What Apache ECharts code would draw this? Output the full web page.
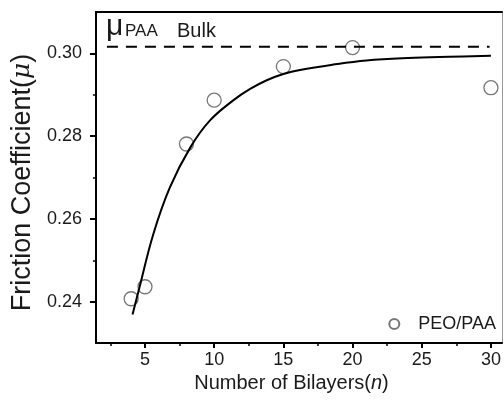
<!DOCTYPE html>
<html>
<head>
<meta charset="utf-8">
<script src="https://cdn.jsdelivr.net/npm/echarts@6/dist/echarts.min.js"></script>
<style>
    html, body { margin: 0; padding: 0; background: #fff; }
    #chart { width: 504px; height: 403px; }
</style>
</head>
<body>
<div id="chart"></div>
<script type="text/javascript">
// 测量数据 (PEO/PAA)
var bilayers = [4, 5, 8, 10, 15, 20, 30];
var friction = [0.2407, 0.2436, 0.2781, 0.2887, 0.2968, 0.3014, 0.2917];

// 拟合曲线
var fitN  = [4.1, 4.6, 5.6, 6.8, 8.3, 9.7, 11.4, 12.6, 13.8, 15, 16.2, 18.6, 21, 24, 27, 30];
var fitMu = [0.2369, 0.2434, 0.2563, 0.2676, 0.2774, 0.2838, 0.2887, 0.2914, 0.2935, 0.2950, 0.2960, 0.2973, 0.2983, 0.2989, 0.2992, 0.2994];

// PAA bulk 参考线
var bulkMu = 0.3016;
var bulkRange = [2.25, 29.9];

// 刻度
var xMajorTicks = [5, 10, 15, 20, 25, 30];
var xMinorTicks = [2.5, 7.5, 12.5, 17.5, 22.5, 27.5];
var yMajorTicks = [0.24, 0.26, 0.28, 0.30];
var yMinorTicks = [0.25, 0.27, 0.29];

var font = 'Liberation Sans, Arial, sans-serif';
var ink = '#1a1a1a';

var chart = echarts.init(document.getElementById('chart'));

function zip(a, b) {
    return a.map(function (v, i) { return [v, b[i]]; });
}

var option = {
    animation: false,
    backgroundColor: '#fff',
    textStyle: { fontFamily: font, color: ink },
    grid: { left: 96, right: 2, top: 12, bottom: 60 },
    legend: {
        data: ['PEO/PAA'],
        right: 3,
        top: 310,
        itemWidth: 10,
        itemHeight: 10,
        textStyle: { fontFamily: font, fontSize: 18, color: ink, padding: [0, 0, 0, 14] }
    },
    xAxis: [{
        type: 'value', min: 1.46, max: 30.8,
        name: 'Number of Bilayers({i|n})',
        nameLocation: 'middle', nameGap: 28,
        nameTextStyle: {
            fontFamily: font, fontSize: 20, color: ink, padding: [0, 15, 0, 0],
            rich: { i: { fontStyle: 'italic', fontFamily: font, fontSize: 20, color: ink } }
        },
        axisLine: { lineStyle: { color: '#000', width: 2 } },
        axisTick: { show: true, inside: false, length: 5, lineStyle: { color: '#000', width: 2 }, customValues: xMajorTicks },
        axisLabel: { fontFamily: font, fontSize: 18, color: ink, margin: 8, customValues: xMajorTicks },
        splitLine: { show: false }
    }, {
        type: 'value', min: 1.46, max: 30.8, position: 'bottom',
        axisLine: { show: false },
        axisTick: { show: true, length: 3, lineStyle: { color: '#000', width: 1.5 }, customValues: xMinorTicks },
        axisLabel: { show: false },
        splitLine: { show: false }
    }, {
        type: 'value', min: 1.46, max: 30.8, position: 'top',
        axisLine: { lineStyle: { color: '#000', width: 2 } },
        axisTick: { show: false },
        axisLabel: { show: false },
        splitLine: { show: false }
    }],
    yAxis: [{
        type: 'value', min: 0.23, max: 0.31,
        name: 'Friction Coefficient({i|μ})',
        nameLocation: 'middle', nameGap: 60,
        nameTextStyle: {
            fontFamily: font, fontSize: 27, color: ink, padding: [0, 10, 0, 0],
            rich: { i: { fontStyle: 'italic', fontFamily: 'DejaVu Serif, serif', fontSize: 25, color: ink } }
        },
        axisLine: { lineStyle: { color: '#000', width: 2 } },
        axisTick: { show: true, length: 6, lineStyle: { color: '#000', width: 2 }, customValues: yMajorTicks },
        axisLabel: {
            fontFamily: font, fontSize: 18, color: ink, margin: 14, customValues: yMajorTicks,
            formatter: function (v) { return v.toFixed(2); }
        },
        splitLine: { show: false }
    }, {
        type: 'value', min: 0.23, max: 0.31, position: 'left',
        axisLine: { show: false },
        axisTick: { show: true, length: 3, lineStyle: { color: '#000', width: 1.5 }, customValues: yMinorTicks },
        axisLabel: { show: false },
        splitLine: { show: false }
    }, {
        type: 'value', min: 0.23, max: 0.31, position: 'right',
        axisLine: { lineStyle: { color: '#999', width: 1 } },
        axisTick: { show: false },
        axisLabel: { show: false },
        splitLine: { show: false }
    }],
    graphic: [
        { type: 'text', left: 106, top: 12, z: 10, style: { text: 'μ', font: '30px ' + font, fill: ink } },
        { type: 'text', left: 125, top: 23, z: 10, style: { text: 'PAA', font: '17px ' + font, fill: ink } },
        { type: 'text', left: 177, top: 21, z: 10, style: { text: 'Bulk', font: '20px ' + font, fill: ink } }
    ],
    series: [{
        name: 'PEO/PAA',
        type: 'scatter',
        xAxisIndex: 0, yAxisIndex: 0,
        symbol: 'circle',
        symbolSize: 14,
        itemStyle: { color: 'rgba(255,255,255,0)', borderColor: '#555', borderWidth: 1.3 },
        z: 2,
        data: zip(bilayers, friction)
    }, {
        name: 'fit',
        type: 'line',
        xAxisIndex: 0, yAxisIndex: 0,
        smooth: 0.4,
        showSymbol: false,
        lineStyle: { color: '#000', width: 2 },
        z: 3,
        data: zip(fitN, fitMu)
    }, {
        name: 'bulk',
        type: 'line',
        xAxisIndex: 0, yAxisIndex: 0,
        showSymbol: false,
        lineStyle: { color: '#000', width: 2, type: [11, 8] },
        z: 3,
        data: [[bulkRange[0], bulkMu], [bulkRange[1], bulkMu]]
    }]
};

chart.setOption(option);
</script>
</body>
</html>
